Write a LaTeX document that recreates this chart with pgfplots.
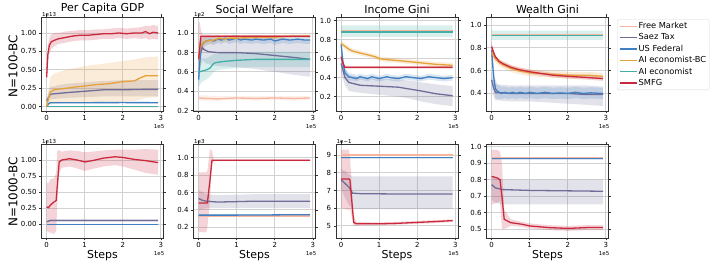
\documentclass[border=0pt]{standalone}
\usepackage{pgfplots}
\pgfplotsset{compat=1.18}
\usepackage{pgfplotstable}
\usepgfplotslibrary{fillbetween}
\usepackage{fontspec}
\setmainfont{DejaVu Sans}
\definecolor{fmC}{RGB}{246,182,158}
\definecolor{szC}{RGB}{112,108,152}
\definecolor{usC}{RGB}{64,128,194}
\definecolor{bcC}{RGB}{230,162,58}
\definecolor{aiC}{RGB}{66,175,168}
\definecolor{smC}{RGB}{202,40,60}
\newcommand{\ser}[3]{%
  \addplot[name path=u#3, draw=none, forget plot] table[x=x,y=h]{#1};
  \addplot[name path=l#3, draw=none, forget plot] table[x=x,y=l]{#1};
  \addplot[fill=#2, fill opacity=0.2, draw=none, forget plot] fill between[of=u#3 and l#3];
  \addplot[color=#2, line width=1.3bp] table[x=x,y=m]{#1};
}
\tikzset{off/.style={font=\fontsize{5.5}{6}\selectfont, inner sep=0.5bp}}
\pgfplotsset{
  panel/.style={scale only axis, width=122bp, height=94bp, xmin=-0.135, xmax=3.07,
    xtick={0,1,2,3}, xticklabels={0,1,2,3}, grid=major,
    major grid style={line width=0.9bp, gray!35},
    axis line style={line width=0.8bp, black!80},
    tick align=outside, major tick length=2.5bp, tick style={black!80, line width=0.6bp},
    tick label style={font=\fontsize{7}{8}\selectfont},
    xticklabel style={yshift=1.5bp}, yticklabel style={xshift=1bp},
    /pgf/number format/assume math mode=true, scaled ticks=false,
    title style={font=\fontsize{11}{12}\selectfont, yshift=-6.5bp},
    xlabel style={font=\fontsize{11}{12}\selectfont, yshift=4bp}}
}
% ---------------- data: N=100-BC, Per Capita GDP (1e13) ----------------
\pgfplotstableread[row sep=\\]{x m l h\\ 0 0.0 -0.003 0.003\\ 2.93 0.0 -0.003 0.003\\}\aFM
\pgfplotstableread[row sep=\\]{x m l h\\ 0 0.08 0.04 0.12\\ 0.1 0.17 0.10 0.27\\ 0.3 0.18 0.11 0.29\\ 0.5 0.19 0.12 0.31\\ 1.0 0.21 0.13 0.33\\ 1.5 0.23 0.14 0.35\\ 2.0 0.23 0.14 0.36\\ 2.5 0.235 0.14 0.36\\ 2.93 0.235 0.14 0.36\\}\aSZ
\pgfplotstableread[row sep=\\]{x m l h\\ 0 0.0 0.0 0.005\\ 0.05 0.04 0.035 0.05\\ 0.1 0.055 0.048 0.062\\ 1.0 0.055 0.048 0.062\\ 2.0 0.056 0.048 0.064\\ 2.93 0.055 0.048 0.062\\}\aUS
\pgfplotstableread[row sep=\\]{x m l h\\ 0 0.0 0.0 0.0\\ 0.05 0.12 0.02 0.25\\ 0.1 0.20 0.03 0.40\\ 0.2 0.23 0.04 0.45\\ 0.5 0.25 0.05 0.50\\ 0.8 0.27 0.05 0.53\\ 1.0 0.28 0.06 0.55\\ 1.3 0.30 0.06 0.57\\ 1.6 0.31 0.07 0.59\\ 2.0 0.34 0.07 0.62\\ 2.3 0.35 0.08 0.64\\ 2.5 0.40 0.10 0.66\\ 2.6 0.42 0.12 0.67\\ 2.93 0.42 0.13 0.68\\}\aBC
\pgfplotstableread[row sep=\\]{x m l h\\ 0 0.0 -0.004 0.004\\ 2.93 0.0 -0.004 0.004\\}\aAI
\pgfplotstableread[row sep=\\]{x m l h\\ 0 0.40 0.30 0.50\\ 0.03 0.70 0.58 0.82\\ 0.07 0.83 0.72 0.93\\ 0.12 0.88 0.78 0.98\\ 0.2 0.90 0.82 1.00\\ 0.3 0.92 0.85 1.00\\ 0.5 0.94 0.87 1.02\\ 0.7 0.96 0.89 1.03\\ 0.9 0.97 0.90 1.04\\ 1.1 0.97 0.90 1.04\\ 1.3 0.98 0.91 1.05\\ 1.5 0.99 0.92 1.05\\ 1.7 0.99 0.92 1.06\\ 1.9 1.00 0.93 1.07\\ 2.1 0.99 0.92 1.06\\ 2.3 1.00 0.93 1.07\\ 2.5 1.00 0.92 1.08\\ 2.6 1.02 0.93 1.10\\ 2.7 0.99 0.91 1.09\\ 2.8 1.01 0.92 1.11\\ 2.93 1.00 0.91 1.09\\}\aSM
% ---------------- N=100-BC, Social Welfare (1e2) ----------------
\pgfplotstableread[row sep=\\]{x m l h\\ 0 0.33 0.30 0.36\\ 0.5 0.32 0.30 0.35\\ 1.0 0.33 0.31 0.35\\ 1.5 0.325 0.30 0.35\\ 2.0 0.33 0.31 0.35\\ 2.5 0.325 0.30 0.35\\ 2.93 0.33 0.31 0.35\\}\bFM
\pgfplotstableread[row sep=\\]{x m l h\\ 0 0.75 0.60 0.90\\ 0.05 0.80 0.66 0.94\\ 0.1 0.85 0.72 0.97\\ 0.15 0.83 0.70 0.96\\ 0.25 0.81 0.68 0.95\\ 0.5 0.80 0.66 0.95\\ 1.0 0.80 0.65 0.95\\ 1.5 0.79 0.63 0.95\\ 2.0 0.77 0.60 0.95\\ 2.5 0.75 0.57 0.94\\ 2.93 0.73 0.55 0.93\\}\bSZ
\pgfplotstableread[row sep=\\]{x m l h\\ 0 0.52 0.35 0.68\\ 0.03 0.70 0.55 0.85\\ 0.07 0.86 0.78 0.93\\ 0.12 0.90 0.85 0.95\\ 0.2 0.92 0.88 0.96\\ 0.3 0.93 0.89 0.97\\ 0.4 0.92 0.88 0.96\\ 0.5 0.94 0.90 0.98\\ 0.6 0.93 0.89 0.97\\ 0.7 0.95 0.91 0.98\\ 0.8 0.93 0.89 0.97\\ 0.9 0.94 0.90 0.98\\ 1.0 0.95 0.91 0.98\\ 1.1 0.93 0.89 0.97\\ 1.2 0.94 0.90 0.98\\ 1.4 0.93 0.89 0.97\\ 1.5 0.94 0.90 0.98\\ 1.7 0.93 0.89 0.97\\ 1.9 0.94 0.90 0.97\\ 2.0 0.92 0.88 0.96\\ 2.2 0.94 0.90 0.97\\ 2.4 0.93 0.89 0.97\\ 2.6 0.94 0.90 0.97\\ 2.8 0.93 0.89 0.97\\ 2.93 0.93 0.89 0.96\\}\bUS
\pgfplotstableread[row sep=\\]{x m l h\\ 0 0.75 0.60 0.90\\ 0.05 0.85 0.78 0.92\\ 0.1 0.90 0.85 0.95\\ 0.2 0.92 0.88 0.96\\ 0.4 0.93 0.89 0.97\\ 0.55 0.95 0.92 0.98\\ 0.65 0.94 0.91 0.97\\ 0.8 0.95 0.92 0.98\\ 1.0 0.95 0.93 0.98\\ 1.5 0.96 0.94 0.98\\ 2.0 0.96 0.94 0.98\\ 2.5 0.97 0.95 0.99\\ 2.93 0.97 0.95 0.99\\}\bBC
\pgfplotstableread[row sep=\\]{x m l h\\ 0 0.60 0.45 0.75\\ 0.1 0.61 0.50 0.74\\ 0.2 0.62 0.52 0.74\\ 0.3 0.64 0.55 0.76\\ 0.4 0.69 0.60 0.79\\ 0.5 0.70 0.62 0.79\\ 0.7 0.71 0.63 0.80\\ 1.0 0.72 0.64 0.80\\ 1.5 0.73 0.65 0.81\\ 2.0 0.73 0.65 0.81\\ 2.5 0.73 0.65 0.81\\ 2.93 0.73 0.65 0.81\\}\bAI
\pgfplotstableread[row sep=\\]{x m l h\\ 0 0.73 0.50 1.10\\ 0.03 0.85 0.62 1.12\\ 0.06 0.97 0.90 1.03\\ 0.1 0.97 0.95 0.99\\ 1.0 0.97 0.96 0.98\\ 2.0 0.97 0.96 0.98\\ 2.93 0.97 0.96 0.98\\}\bSM
% ---------------- N=100-BC, Income Gini ----------------
\pgfplotstableread[row sep=\\]{x m l h\\ 0 0.89 0.88 0.90\\ 2.93 0.89 0.88 0.90\\}\cFM
\pgfplotstableread[row sep=\\]{x m l h\\ 0 0.55 0.45 0.62\\ 0.1 0.40 0.32 0.50\\ 0.2 0.35 0.26 0.43\\ 0.5 0.32 0.24 0.40\\ 1.0 0.31 0.22 0.39\\ 1.5 0.30 0.20 0.38\\ 1.8 0.28 0.18 0.37\\ 2.1 0.26 0.15 0.35\\ 2.5 0.23 0.12 0.33\\ 2.93 0.21 0.10 0.31\\}\cSZ
\pgfplotstableread[row sep=\\]{x m l h\\ 0 0.75 0.68 0.80\\ 0.05 0.55 0.48 0.62\\ 0.1 0.45 0.40 0.50\\ 0.2 0.41 0.37 0.45\\ 0.3 0.40 0.37 0.44\\ 0.4 0.39 0.36 0.43\\ 0.5 0.41 0.38 0.44\\ 0.6 0.40 0.37 0.43\\ 0.7 0.39 0.36 0.43\\ 0.8 0.41 0.38 0.44\\ 0.9 0.40 0.37 0.43\\ 1.0 0.39 0.36 0.42\\ 1.2 0.41 0.38 0.44\\ 1.3 0.40 0.37 0.43\\ 1.5 0.39 0.36 0.42\\ 1.7 0.41 0.38 0.44\\ 1.9 0.40 0.37 0.43\\ 2.1 0.39 0.36 0.42\\ 2.3 0.41 0.38 0.44\\ 2.5 0.40 0.37 0.43\\ 2.7 0.39 0.36 0.42\\ 2.93 0.40 0.37 0.43\\}\cUS
\pgfplotstableread[row sep=\\]{x m l h\\ 0 0.76 0.73 0.79\\ 0.1 0.73 0.70 0.76\\ 0.2 0.70 0.67 0.73\\ 0.3 0.68 0.655 0.705\\ 0.5 0.66 0.635 0.685\\ 0.7 0.64 0.615 0.665\\ 0.9 0.62 0.595 0.645\\ 1.0 0.60 0.575 0.625\\ 1.2 0.59 0.565 0.615\\ 1.5 0.58 0.555 0.605\\ 2.0 0.56 0.535 0.585\\ 2.5 0.54 0.515 0.565\\ 2.93 0.53 0.505 0.555\\}\cBC
\pgfplotstableread[row sep=\\]{x m l h\\ 0 0.88 0.83 0.95\\ 1.0 0.88 0.83 0.95\\ 2.0 0.88 0.83 0.95\\ 2.93 0.88 0.83 0.95\\}\cAI
\pgfplotstableread[row sep=\\]{x m l h\\ 0 0.62 0.58 0.66\\ 0.05 0.55 0.52 0.58\\ 0.1 0.51 0.495 0.525\\ 1.0 0.51 0.495 0.525\\ 2.0 0.51 0.495 0.525\\ 2.93 0.51 0.495 0.525\\}\cSM
% ---------------- N=100-BC, Wealth Gini ----------------
\pgfplotstableread[row sep=\\]{x m l h\\ 0 0.915 0.905 0.925\\ 2.93 0.915 0.905 0.925\\}\dFM
\pgfplotstableread[row sep=\\]{x m l h\\ 0 0.52 0.45 0.58\\ 0.05 0.45 0.37 0.52\\ 0.1 0.41 0.34 0.48\\ 0.5 0.40 0.33 0.47\\ 1.0 0.40 0.33 0.47\\ 1.5 0.40 0.32 0.47\\ 2.0 0.40 0.31 0.47\\ 2.5 0.39 0.30 0.47\\ 2.93 0.39 0.29 0.46\\}\dSZ
\pgfplotstableread[row sep=\\]{x m l h\\ 0 0.78 0.70 0.85\\ 0.05 0.55 0.45 0.65\\ 0.1 0.44 0.36 0.52\\ 0.15 0.42 0.35 0.48\\ 0.25 0.40 0.35 0.46\\ 0.35 0.41 0.36 0.46\\ 0.45 0.40 0.35 0.45\\ 0.55 0.41 0.36 0.46\\ 0.65 0.40 0.35 0.45\\ 0.75 0.41 0.36 0.46\\ 0.9 0.40 0.35 0.45\\ 1.0 0.41 0.36 0.46\\ 1.2 0.40 0.35 0.45\\ 1.4 0.41 0.36 0.46\\ 1.6 0.40 0.35 0.45\\ 1.8 0.405 0.355 0.455\\ 2.0 0.40 0.35 0.45\\ 2.2 0.41 0.36 0.46\\ 2.4 0.40 0.35 0.45\\ 2.6 0.405 0.355 0.455\\ 2.93 0.40 0.35 0.45\\}\dUS
\pgfplotstableread[row sep=\\]{x m l h\\ 0 0.76 0.73 0.79\\ 0.05 0.73 0.70 0.76\\ 0.1 0.70 0.67 0.73\\ 0.2 0.67 0.64 0.70\\ 0.3 0.65 0.62 0.68\\ 0.5 0.62 0.59 0.65\\ 0.7 0.60 0.57 0.63\\ 1.0 0.58 0.55 0.61\\ 1.5 0.57 0.54 0.60\\ 2.0 0.56 0.53 0.59\\ 2.5 0.56 0.53 0.59\\ 2.93 0.55 0.52 0.58\\}\dBC
\pgfplotstableread[row sep=\\]{x m l h\\ 0 0.91 0.87 0.95\\ 1.0 0.91 0.87 0.95\\ 2.0 0.91 0.87 0.95\\ 2.93 0.91 0.87 0.95\\}\dAI
\pgfplotstableread[row sep=\\]{x m l h\\ 0 0.81 0.78 0.84\\ 0.05 0.76 0.73 0.79\\ 0.1 0.72 0.70 0.74\\ 0.2 0.68 0.66 0.70\\ 0.3 0.66 0.64 0.68\\ 0.5 0.63 0.61 0.65\\ 0.7 0.61 0.59 0.63\\ 1.0 0.59 0.57 0.61\\ 1.3 0.575 0.555 0.595\\ 1.6 0.56 0.54 0.58\\ 2.0 0.55 0.53 0.57\\ 2.5 0.54 0.52 0.56\\ 2.93 0.53 0.51 0.55\\}\dSM
% ---------------- N=1000-BC, Per Capita GDP (1e13) ----------------
\pgfplotstableread[row sep=\\]{x m l h\\ 0 0.0 -0.003 0.003\\ 2.93 0.0 -0.003 0.003\\}\eFM
\pgfplotstableread[row sep=\\]{x m l h\\ 0 0.04 0.03 0.05\\ 0.1 0.06 0.04 0.08\\ 1.0 0.06 0.04 0.08\\ 2.0 0.06 0.04 0.08\\ 2.93 0.06 0.04 0.08\\}\eSZ
\pgfplotstableread[row sep=\\]{x m l h\\ 0 0.0 -0.005 0.005\\ 1.0 0.0 -0.005 0.005\\ 2.93 0.0 -0.005 0.005\\}\eUS
\pgfplotstableread[row sep=\\]{x m l h\\ 0 0.27 -0.10 0.65\\ 0.05 0.26 -0.12 0.64\\ 0.1 0.30 -0.13 0.70\\ 0.2 0.35 -0.15 0.72\\ 0.25 0.37 -0.10 0.80\\ 0.28 0.60 0.30 1.15\\ 0.33 0.97 0.80 1.15\\ 0.4 1.00 0.88 1.13\\ 0.6 1.02 0.90 1.15\\ 0.8 1.00 0.87 1.14\\ 1.0 0.97 0.83 1.12\\ 1.2 0.99 0.86 1.13\\ 1.5 1.03 0.90 1.15\\ 1.8 1.05 0.92 1.16\\ 2.0 1.04 0.90 1.16\\ 2.3 1.01 0.85 1.16\\ 2.6 0.99 0.80 1.17\\ 2.93 0.96 0.77 1.16\\}\eSM
% ---------------- N=1000-BC, Social Welfare (1e3) ----------------
\pgfplotstableread[row sep=\\]{x m l h\\ 0 0.33 0.32 0.34\\ 2.93 0.33 0.32 0.34\\}\fFM
\pgfplotstableread[row sep=\\]{x m l h\\ 0 0.53 0.40 0.63\\ 0.1 0.51 0.41 0.60\\ 0.2 0.50 0.42 0.58\\ 0.5 0.49 0.42 0.57\\ 1.5 0.50 0.42 0.58\\ 2.93 0.50 0.42 0.58\\}\fSZ
\pgfplotstableread[row sep=\\]{x m l h\\ 0 0.34 0.33 0.35\\ 1.0 0.34 0.33 0.35\\ 2.93 0.345 0.335 0.355\\}\fUS
\pgfplotstableread[row sep=\\]{x m l h\\ 0 0.48 0.15 0.83\\ 0.2 0.48 0.14 0.83\\ 0.23 0.48 0.20 0.85\\ 0.3 0.75 0.50 1.10\\ 0.35 0.97 0.93 1.08\\ 0.4 0.97 0.96 0.98\\ 1.5 0.97 0.96 0.98\\ 2.93 0.97 0.96 0.98\\}\fSM
% ---------------- N=1000-BC, Income Gini (1e-1) ----------------
\pgfplotstableread[row sep=\\]{x m l h\\ 0 9.0 8.93 9.08\\ 2.93 9.0 8.93 9.08\\}\gFM
\pgfplotstableread[row sep=\\]{x m l h\\ 0 7.6 7.1 8.2\\ 0.1 7.4 6.6 8.1\\ 0.2 7.2 6.2 7.9\\ 0.3 6.85 5.95 7.8\\ 0.5 6.82 5.95 7.8\\ 1.5 6.8 5.95 7.8\\ 2.93 6.8 5.95 7.8\\}\gSZ
\pgfplotstableread[row sep=\\]{x m l h\\ 0 8.85 8.8 8.9\\ 2.93 8.85 8.8 8.9\\}\gUS
\pgfplotstableread[row sep=\\]{x m l h\\ 0 7.65 6.0 9.3\\ 0.2 7.65 5.9 9.3\\ 0.23 7.6 6.0 9.0\\ 0.33 5.2 5.0 5.6\\ 0.4 5.12 5.02 5.22\\ 1.0 5.12 5.04 5.2\\ 1.5 5.15 5.07 5.23\\ 2.0 5.2 5.12 5.28\\ 2.5 5.25 5.17 5.33\\ 2.93 5.3 5.22 5.38\\}\gSM
% ---------------- N=1000-BC, Wealth Gini ----------------
\pgfplotstableread[row sep=\\]{x m l h\\ 0 0.932 0.925 0.94\\ 2.93 0.932 0.925 0.94\\}\hFM
\pgfplotstableread[row sep=\\]{x m l h\\ 0 0.77 0.68 0.82\\ 0.1 0.75 0.66 0.81\\ 0.3 0.74 0.65 0.80\\ 1.0 0.735 0.65 0.80\\ 2.93 0.73 0.65 0.80\\}\hSZ
\pgfplotstableread[row sep=\\]{x m l h\\ 0 0.93 0.92 0.94\\ 2.93 0.93 0.92 0.94\\}\hUS
\pgfplotstableread[row sep=\\]{x m l h\\ 0 0.82 0.65 0.98\\ 0.15 0.81 0.66 0.98\\ 0.22 0.80 0.67 0.97\\ 0.27 0.70 0.50 0.90\\ 0.33 0.56 0.50 0.62\\ 0.5 0.54 0.52 0.56\\ 0.8 0.53 0.515 0.545\\ 1.0 0.52 0.505 0.535\\ 1.5 0.51 0.495 0.525\\ 2.0 0.505 0.49 0.52\\ 2.5 0.51 0.495 0.525\\ 2.93 0.51 0.495 0.525\\}\hSM
\begin{document}
\begin{tikzpicture}
% ---- row 1 ----
\begin{axis}[panel, name=a1, at={(41.5bp,159bp)}, anchor=south west, title={Per Capita GDP},
  ymin=-0.058, ymax=1.217, ytick={0,0.25,0.5,0.75,1}, yticklabels={0.00,0.25,0.50,0.75,1.00}]
\ser{\aFM}{fmC}{a1}\ser{\aSZ}{szC}{a2}\ser{\aUS}{usC}{a3}\ser{\aBC}{bcC}{a4}\ser{\aAI}{aiC}{a5}\ser{\aSM}{smC}{a6}
\end{axis}
\begin{axis}[panel, name=a2, at={(193.5bp,159bp)}, anchor=south west, title={Social Welfare},
  ymin=0.195, ymax=1.169, ytick={0.2,0.4,0.6,0.8,1}, yticklabels={0.2,0.4,0.6,0.8,1.0}]
\ser{\bFM}{fmC}{b1}\ser{\bSZ}{szC}{b2}\ser{\bUS}{usC}{b3}\ser{\bBC}{bcC}{b4}\ser{\bAI}{aiC}{b5}\ser{\bSM}{smC}{b6}
\end{axis}
\begin{axis}[panel, name=a3, at={(336bp,159bp)}, anchor=south west, title={Income Gini},
  ymin=0.049, ymax=1.039, ytick={0.2,0.4,0.6,0.8,1}, yticklabels={0.2,0.4,0.6,0.8,1.0}]
\ser{\cFM}{fmC}{c1}\ser{\cSZ}{szC}{c2}\ser{\cUS}{usC}{c3}\ser{\cBC}{bcC}{c4}\ser{\cAI}{aiC}{c5}\ser{\cSM}{smC}{c6}
\end{axis}
\begin{axis}[panel, name=a4, at={(486.5bp,159bp)}, anchor=south west, title={Wealth Gini},
  ymin=0.246, ymax=1.07, ytick={0.4,0.6,0.8,1}, yticklabels={0.4,0.6,0.8,1.0},
  legend style={at={(1.07,0.976)}, anchor=north west, font=\fontsize{8.3}{9.5}\selectfont,
    draw=black!15, rounded corners=1.5bp, row sep=1.6bp, inner sep=2bp,
    nodes={inner sep=1bp}},
  legend cell align=left,
  legend image code/.code={\draw[#1, line width=1.4bp] (0bp,0bp) -- (17bp,0bp);}]
\ser{\dFM}{fmC}{d1}\ser{\dSZ}{szC}{d2}\ser{\dUS}{usC}{d3}\ser{\dBC}{bcC}{d4}\ser{\dAI}{aiC}{d5}\ser{\dSM}{smC}{d6}
\legend{Free Market,Saez Tax,US Federal,AI economist-BC,AI economist,SMFG}
\end{axis}
% ---- row 2 ----
\begin{axis}[panel, name=b1, at={(41.5bp,32bp)}, anchor=south west, xlabel={Steps},
  ymin=-0.213, ymax=1.249, ytick={0,0.25,0.5,0.75,1}, yticklabels={0.00,0.25,0.50,0.75,1.00}]
\ser{\eFM}{fmC}{e1}\ser{\eSZ}{szC}{e2}\ser{\eUS}{usC}{e3}\ser{\eSM}{smC}{e6}
\end{axis}
\begin{axis}[panel, name=b2, at={(193.5bp,32bp)}, anchor=south west, xlabel={Steps},
  ymin=0.077, ymax=1.157, ytick={0.2,0.4,0.6,0.8,1}, yticklabels={0.2,0.4,0.6,0.8,1.0}]
\ser{\fFM}{fmC}{f1}\ser{\fSZ}{szC}{f2}\ser{\fUS}{usC}{f3}\ser{\fSM}{smC}{f6}
\end{axis}
\begin{axis}[panel, name=b3, at={(336bp,32bp)}, anchor=south west, xlabel={Steps},
  ymin=4.32, ymax=9.62, ytick={5,6,7,8,9}, yticklabels={5,6,7,8,9}]
\ser{\gFM}{fmC}{g1}\ser{\gSZ}{szC}{g2}\ser{\gUS}{usC}{g3}\ser{\gSM}{smC}{g6}
\end{axis}
\begin{axis}[panel, name=b4, at={(486.5bp,32bp)}, anchor=south west, xlabel={Steps},
  ymin=0.447, ymax=1.016, ytick={0.5,0.6,0.7,0.8,0.9,1}, yticklabels={0.5,0.6,0.7,0.8,0.9,1.0}]
\ser{\hFM}{fmC}{h1}\ser{\hSZ}{szC}{h2}\ser{\hUS}{usC}{h3}\ser{\hSM}{smC}{h6}
\end{axis}
% ---- offset labels ----
\node[off, anchor=south west] at (a1.north west) {1e13};
\node[off, anchor=south west] at (a2.north west) {1e2};
\node[off, anchor=south west] at (b1.north west) {1e13};
\node[off, anchor=south west] at (b2.north west) {1e3};
\node[off, anchor=south west] at (b3.north west) {1e\textminus1};
\foreach \n in {a1,a2,a3,a4,b1,b2,b3,b4}{
  \node[off, anchor=north east, xshift=1.5bp, yshift=-13bp] at (\n.south east) {1e5};
}
% ---- row labels ----
\node[rotate=90, font=\fontsize{12}{13}\selectfont] at (13bp,204bp) {N=100-BC};
\node[rotate=90, font=\fontsize{12}{13}\selectfont] at (13bp,78bp) {N=1000-BC};
\path (0,0) rectangle (720bp,270bp);
\end{tikzpicture}
\end{document}
